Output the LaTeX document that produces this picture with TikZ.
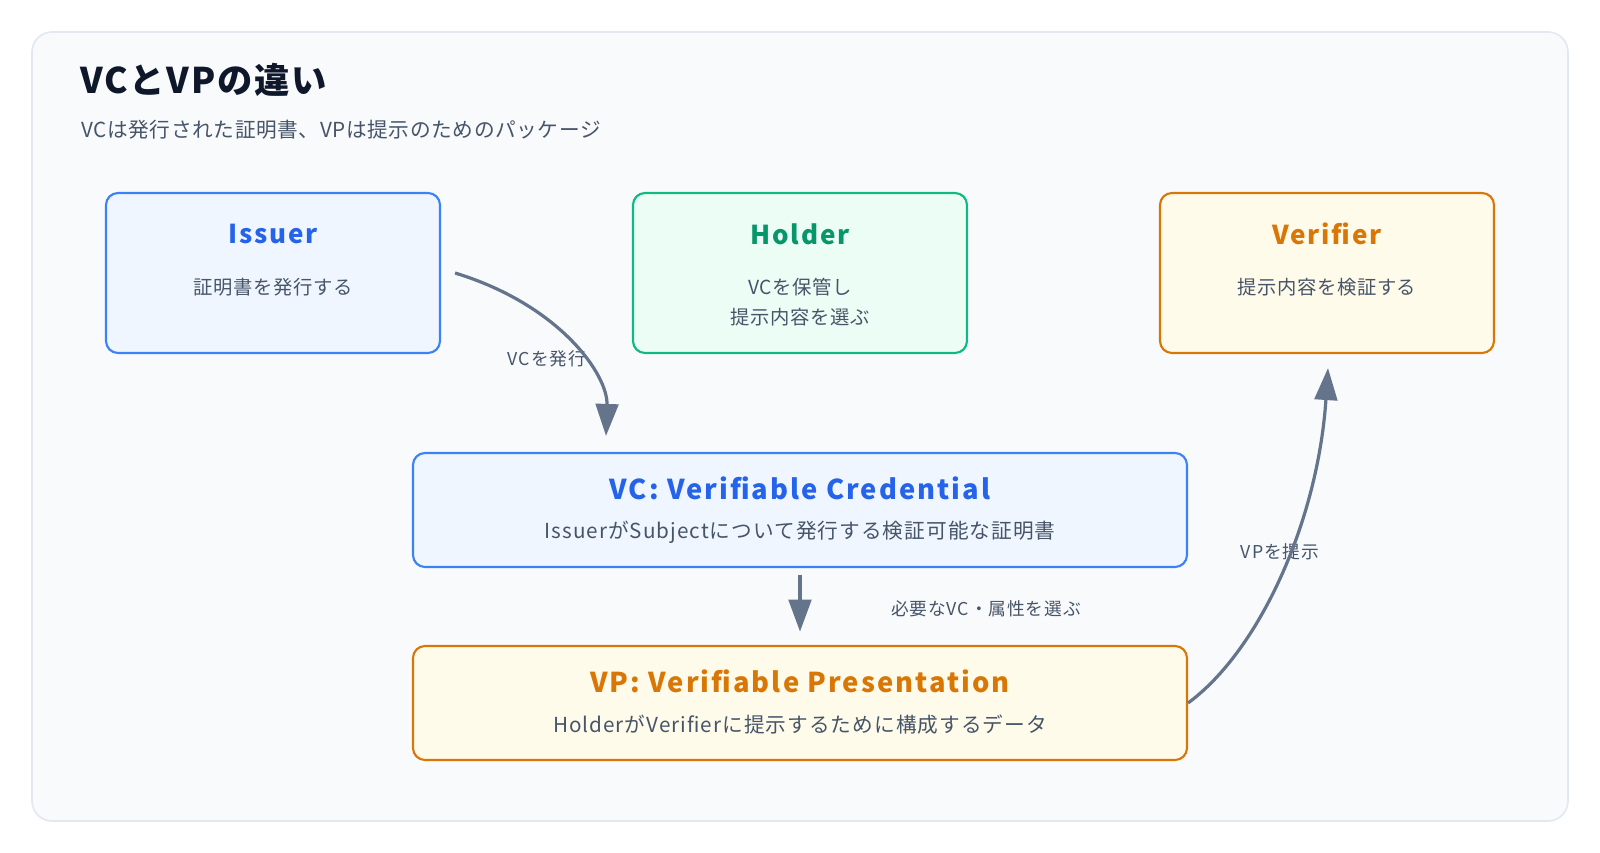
\documentclass[tikz,border=0pt]{standalone}
\usepackage{fontspec}
\setmainfont{Noto Sans CJK JP}
% spaced cuts of the same family for headings and labels
\newfontfamily\headfont{Noto Sans CJK JP}[LetterSpace=5]
\newfontfamily\cardfont{Noto Sans CJK JP}[LetterSpace=7.5]
\newfontfamily\bodyfont{Noto Sans CJK JP}[LetterSpace=3]
\newfontfamily\notefont{Noto Sans CJK JP}[LetterSpace=5]
\usetikzlibrary{arrows.meta,calc}

\definecolor{panelfill}{HTML}{F8FAFC}
\definecolor{panelline}{HTML}{E2E8F0}
\definecolor{ink}{HTML}{0F172A}
\definecolor{muted}{HTML}{475569}
\definecolor{arrowgray}{HTML}{64748B}
\definecolor{bluefill}{HTML}{EFF6FF}
\definecolor{blueline}{HTML}{3B82F6}
\definecolor{bluetext}{HTML}{2563EB}
\definecolor{greenfill}{HTML}{ECFDF5}
\definecolor{greenline}{HTML}{10B981}
\definecolor{greentext}{HTML}{059669}
\definecolor{amberfill}{HTML}{FFFBEB}
\definecolor{amberline}{HTML}{D97706}
\definecolor{ambertext}{HTML}{D97706}

\tikzset{
  card/.style={draw, line width=1.6pt, rounded corners=9pt, inner sep=0pt},
  rolebox/.style={card, minimum width=250.5pt, minimum height=120pt},
  widebox/.style={card, minimum width=580.5pt, minimum height=85.5pt},
  bluecard/.style={fill=bluefill, draw=blueline},
  greencard/.style={fill=greenfill, draw=greenline},
  ambercard/.style={fill=amberfill, draw=amberline},
  roletitle/.style={font=\cardfont\fontsize{19.5}{23}\selectfont\bfseries},
  bigtitle/.style={font=\cardfont\fontsize{20.5}{24}\selectfont\bfseries},
  subtext/.style={text=muted, font=\bodyfont\fontsize{14.5}{22.5}\selectfont, align=center},
  bigsub/.style={text=muted, font=\notefont\fontsize{15.5}{18}\selectfont},
  flow/.style={draw=arrowgray, line width=2.4pt,
    -{Triangle[length=24pt, width=17pt]}},
  flowlabel/.style={text=muted, font=\notefont\fontsize{13.3}{15}\selectfont, inner sep=1pt}
}

\begin{document}
\begin{tikzpicture}[x=0.75pt, y=-0.75pt]
  \useasboundingbox[fill=white] (0,0) rectangle (1600,853);

  % outer panel
  \draw[fill=panelfill, draw=panelline, line width=1.2pt, rounded corners=15pt]
    (32,32) rectangle (1568,821);

  % heading
  \node[anchor=west, text=ink, inner sep=0pt,
        font=\headfont\fontsize{26.5}{30}\selectfont\bfseries] (title) at (80,80) {VCとVPの違い};
  \node[anchor=west, text=muted, inner sep=0pt,
        font=\bodyfont\fontsize{15.5}{18}\selectfont] (subtitle) at (81,130)
        {VCは発行された証明書、VPは提示のためのパッケージ};

  % role boxes
  \node[rolebox, bluecard]  (iss) at (273,273) {};
  \node[rolebox, greencard] (hol) at (800,273) {};
  \node[rolebox, ambercard] (ver) at (1327,273) {};

  \node[roletitle, text=bluetext]  (isst) at (273,234) {Issuer};
  \node[roletitle, text=greentext] (holt) at (800,234) {Holder};
  \node[roletitle, text=ambertext] (vert) at (1327,234) {Verifier};

  \node[subtext] (isss) at (273,287) {証明書を発行する};
  \node[subtext] (hols) at (800,302) {VCを保管し\\提示内容を選ぶ};
  \node[subtext] (vers) at (1327,287) {提示内容を検証する};

  % credential and presentation
  \node[widebox, bluecard]  (vc) at (800,510) {};
  \node[widebox, ambercard] (vp) at (800,703) {};

  \node[bigtitle, text=bluetext]  (vct) at (800,488) {VC: Verifiable Credential};
  \node[bigsub] (vcs) at (800,532) {IssuerがSubjectについて発行する検証可能な証明書};
  \node[bigtitle, text=ambertext] (vpt) at (800,681) {VP: Verifiable Presentation};
  \node[bigsub] (vps) at (800,725) {HolderがVerifierに提示するために構成するデータ};

  % labels of the flows
  \node[flowlabel] (l1) at (547,359) {VCを発行};
  \node[flowlabel] (l2) at (986,609) {必要なVC・属性を選ぶ};
  \node[flowlabel] (l3) at (1280,552) {VPを提示};

  % flows
  \draw[flow] ([xshift=10.5pt]iss.east) .. controls (560,305) and (608,375) ..
    ($(vc.north)+(-194,-16)$);
  \draw[flow] ([yshift=-5pt]vc.south) -- ([yshift=10pt]vp.north);
  \draw[flow] (vp.east) .. controls (1260,650) and (1318,520) ..
    ($(ver.south)+(1,14)$);
\end{tikzpicture}
\end{document}
